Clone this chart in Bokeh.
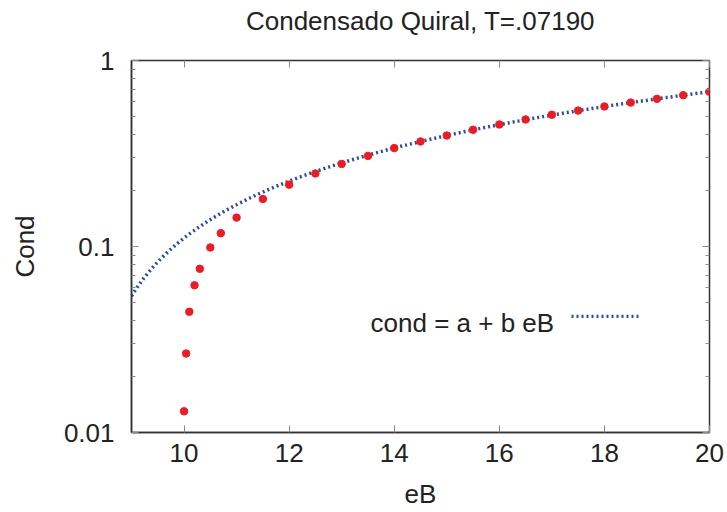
import numpy as np
from bokeh.plotting import figure
from bokeh.models import (Range1d, FixedTicker, LinearAxis, LogAxis, CustomJSTickFormatter,
                          Label, Legend, LegendItem)
from bokeh.embed import file_html
from bokeh.resources import INLINE

# ---- data ----
eB = [10.0, 10.04, 10.1, 10.2, 10.3, 10.5, 10.7, 11.0, 11.5, 12.0, 12.5, 13.0, 13.5,
      14.0, 14.5, 15.0, 15.5, 16.0, 16.5, 17.0, 17.5, 18.0, 18.5, 19.0, 19.5, 20.0]
cond = [0.0130, 0.0266, 0.0446, 0.0619, 0.0759, 0.0988, 0.118, 0.143, 0.180, 0.215,
        0.247, 0.278, 0.307, 0.338, 0.367, 0.395, 0.424, 0.453, 0.482, 0.511, 0.538,
        0.566, 0.594, 0.622, 0.651, 0.679]
fit_a = -0.457
fit_b = 0.0568
x_ticks = [10, 12, 14, 16, 18, 20]
y_ticks = [0.01, 0.1, 1]
y_minor = [m * d for d in (0.01, 0.1) for m in range(2, 10)]
title_text = "Condensado Quiral, T=.07190"
legend_text = "cond = a + b eB"

eB_fit = np.linspace(9, 20, 300)
cond_fit = fit_a + fit_b * eB_fit

FONT = "Liberation Sans"
FS = "26px"
TXT = "#222222"
FRAME = "#333333"
TICK = "#888888"

p = figure(width=727, height=512, x_range=Range1d(9, 20), y_range=Range1d(0.01, 1),
           y_axis_type="log", output_backend="svg", toolbar_location=None,
           min_border_left=131, min_border_right=18, min_border_top=60, min_border_bottom=80)
p.background_fill_color = "white"
p.border_fill_color = "white"
p.grid.visible = False
p.outline_line_color = FRAME
p.outline_line_width = 1.5

xfmt = CustomJSTickFormatter(code="return tick.toString()")
yfmt = CustomJSTickFormatter(code="return tick.toString()")
nofmt = CustomJSTickFormatter(code="return ''")

xa = p.xaxis[0]
xa.ticker = FixedTicker(ticks=x_ticks)
xa.formatter = xfmt
ya = p.yaxis[0]
ya.ticker = FixedTicker(ticks=y_ticks, minor_ticks=y_minor)
ya.formatter = yfmt

top = LinearAxis(ticker=FixedTicker(ticks=x_ticks), formatter=nofmt)
right = LogAxis(ticker=FixedTicker(ticks=y_ticks, minor_ticks=y_minor), formatter=nofmt)

for ax in (xa, ya, top, right):
    ax.axis_line_color = FRAME
    ax.axis_line_width = 1.5
    ax.major_tick_in = 7
    ax.major_tick_out = 0
    ax.minor_tick_in = 4
    ax.minor_tick_out = 0
    ax.major_tick_line_color = TICK
    ax.minor_tick_line_color = TICK
    ax.major_label_text_font = FONT
    ax.major_label_text_font_size = FS
    ax.major_label_text_color = TXT
    ax.axis_label_text_font = FONT
    ax.axis_label_text_font_size = FS
    ax.axis_label_text_font_style = "normal"
    ax.axis_label_text_color = TXT
for ax in (top, right):
    ax.axis_line_color = None
    ax.major_label_standoff = 0
    ax.major_label_text_font_size = "1px"
xa.minor_tick_line_color = None
top.minor_tick_line_color = None

xa.axis_label = "eB"
ya.axis_label = "Cond"
top.axis_label = title_text
xa.major_label_standoff = 11
xa.axis_label_standoff = 14
ya.major_label_standoff = 17
ya.axis_label_standoff = 21
top.axis_label_standoff = 25

p.add_layout(top, "above")
p.add_layout(right, "right")

fit_line = p.line(eB_fit, cond_fit, line_color="#2b4ca2", line_width=3.5, line_dash="2 3")
p.scatter(eB, cond, size=7.5, fill_color="#ec1c24", line_color="#ec1c24")

p.add_layout(Label(x=13.55, y=0.0386, text=legend_text, text_font=FONT,
                   text_font_size=FS, text_color=TXT, text_baseline="alphabetic"))
leg = Legend(items=[LegendItem(label=" ", renderers=[fit_line])], location=(440, 114),
             glyph_width=70, glyph_height=4, label_width=0, label_height=4,
             label_standoff=0, label_text_font_size="1px", padding=0, margin=0,
             spacing=0, border_line_color=None, background_fill_alpha=0)
p.add_layout(leg, "center")

open("out.html", "w").write(file_html(p, INLINE))
